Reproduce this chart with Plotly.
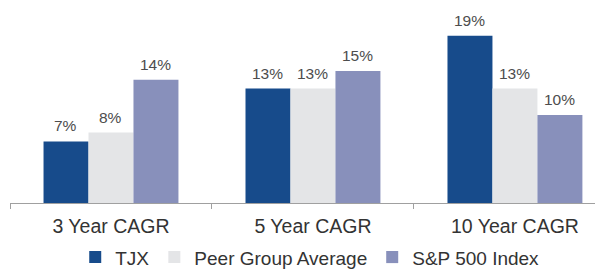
import plotly.graph_objects as go

categories = ["3 Year CAGR", "5 Year CAGR", "10 Year CAGR"]
tjx = [7, 13, 19]
peer = [8, 13, 13]
sp500 = [14, 15, 10]
series_names = ["TJX", "Peer Group Average", "S&P 500 Index"]
colors = ["#174b8b", "#e4e5e7", "#8890bb"]

series = [tjx, peer, sp500]
bar_px = 45  # rendered bar width in pixels (style)

fig = go.Figure()
for i, (name, vals, col) in enumerate(zip(series_names, series, colors)):
    fig.add_trace(go.Bar(
        x=categories, y=vals, name=name,
        marker=dict(color=col, line=dict(width=0)),
        cliponaxis=False,
    ))
    for c, v in zip(categories, vals):
        fig.add_annotation(
            x=c, y=v, xref="x", yref="y", text=f"{v}%", showarrow=False,
            xanchor="center", yanchor="bottom", xshift=(i - 1) * bar_px, yshift=5,
            font=dict(size=15.5, color="#4d4d4d"),
        )

fig.update_layout(
    width=595, height=261,
    margin=dict(l=2, r=0, t=0, b=66),
    paper_bgcolor="white", plot_bgcolor="white",
    barmode="group", bargap=0.332, bargroupgap=0,
    font=dict(family="Liberation Sans, Arial, sans-serif", color="#333333"),
    showlegend=True,
    legend=dict(orientation="h", x=0.11, xanchor="left",
                yref="container", y=0.045, yanchor="middle",
                font=dict(size=19, color="#333333"), itemwidth=30,
                traceorder="normal"),
)
fig.update_xaxes(
    range=[-0.5, 2.436], showline=True, linecolor="#a0a0a0", linewidth=1,
    ticks="outside", tickson="boundaries", ticklen=5, tickcolor="#a0a0a0",
    tickfont=dict(size=19.5, color="#333333"), ticklabelstandoff=6, showgrid=False,
)
fig.update_yaxes(range=[0, 22.16], visible=False, showgrid=False)

fig.write_html("out.html")
